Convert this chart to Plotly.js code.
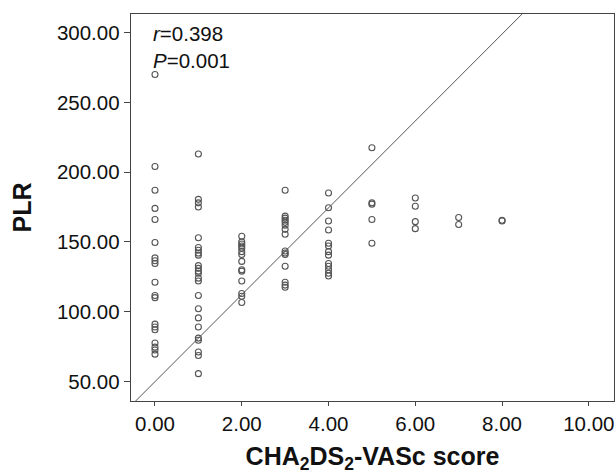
<!DOCTYPE html>
<html>
<head>
<meta charset="utf-8">
<script src="https://cdn.plot.ly/plotly-3.0.1.min.js"></script>
<style>html,body{margin:0;padding:0;background:#fff;}#chart{width:616px;height:474px;}</style>
</head>
<body>
<div id="chart"></div>
<script>
// CHA2DS2-VASc score groups and PLR values
const scores = [0, 1, 2, 3, 4, 5, 6, 7, 8];
const plrScore0 = [270, 204, 187, 174, 166, 149.5, 138.5, 136.5, 134.5, 121, 111.5, 110, 91, 89, 87, 77.5, 74.5, 72.5, 69.5];
const plrScore1 = [213, 180.5, 178, 175, 153, 146, 144, 142, 140.5, 133, 131, 129, 127.5, 124, 122, 111.5, 102, 95.5, 89, 81, 79.5, 71, 68.5, 55.5];
const plrScore2 = [154, 150, 148.5, 147, 145.5, 143, 141, 136, 130, 129, 122, 113, 111, 106.5];
const plrScore3 = [187, 168.5, 167, 165.5, 164, 162, 159, 155.5, 143.5, 142, 141, 132.5, 121, 119, 117.5];
const plrScore4 = [185, 174.5, 165, 158.5, 149, 147, 143, 140.5, 134.5, 132.5, 130, 127.5, 125.5];
const plrScore5 = [217.5, 178, 177, 166, 149];
const plrScore6 = [181.5, 175.5, 164.5, 159.5];
const plrScore7 = [167.5, 162.5];
const plrScore8 = [165.5, 165];
const plrGroups = [plrScore0, plrScore1, plrScore2, plrScore3, plrScore4, plrScore5, plrScore6, plrScore7, plrScore8];

// fit line
const fitIntercept = 49.8;
const fitSlope = 31.15;
const fitX = [-0.6, 10.6];

const xTicks = [0, 2, 4, 6, 8, 10];
const yTicks = [50, 100, 150, 200, 250, 300];
const statText = '<i>r</i>=0.398<br><i>P</i>=0.001';

const xs = [], ys = [];
plrGroups.forEach((g, i) => g.forEach(v => { xs.push(scores[i]); ys.push(v); }));

const font = 'Arial, "Liberation Sans", Helvetica, sans-serif';

const traces = [
  {
    x: fitX, y: fitX.map(x => fitIntercept + fitSlope * x),
    mode: 'lines', type: 'scatter',
    line: {color: '#555', width: 1},
    hoverinfo: 'skip', cliponaxis: true
  },
  {
    x: xs, y: ys, mode: 'markers', type: 'scatter',
    marker: {symbol: 'circle-open', size: 6, color: '#555', line: {width: 1.1}},
    cliponaxis: true
  }
];

const axisCommon = {
  showgrid: false, zeroline: false,
  showline: true, linecolor: '#444', linewidth: 1.3, mirror: true,
  ticks: 'outside', tickwidth: 1, tickcolor: '#444',
  tickfont: {family: font, size: 20.5, color: '#111'},
  tickformat: '.2f'
};

const layout = {
  width: 616, height: 474,
  margin: {l: 131, r: 2, t: 14, b: 73},
  paper_bgcolor: '#fff', plot_bgcolor: '#fff',
  showlegend: false,
  font: {family: font, color: '#111'},
  xaxis: Object.assign({}, axisCommon, {
    range: [-0.553, 10.58], tickvals: xTicks, ticklen: 4,
    title: {text: '<b>CHA<sub>2</sub>DS<sub>2</sub>-VASc score</b>', font: {family: font, size: 25, color: '#111'}, standoff: 16}
  }),
  yaxis: Object.assign({}, axisCommon, {
    range: [35.9, 313.4], tickvals: yTicks, ticklen: 6,
    title: {text: '<b>PLR</b>', font: {family: font, size: 25, color: '#111'}, standoff: 18}
  }),
  annotations: [{
    xref: 'paper', yref: 'paper', x: 0.042, y: 0.985,
    xanchor: 'left', yanchor: 'top', align: 'left',
    text: statText, showarrow: false,
    font: {family: font, size: 20.5, color: '#111'}
  }]
};

Plotly.newPlot('chart', traces, layout, {staticPlot: true});
</script>
</body>
</html>
